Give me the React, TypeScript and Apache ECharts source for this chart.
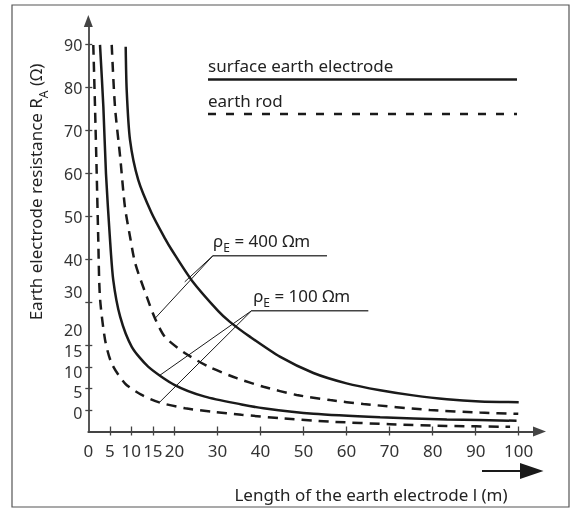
import React, { useEffect, useRef } from 'react';
import * as echarts from 'echarts';

const FONT = '"Noto Sans", sans-serif';
const INK = '#1a1a1a';
const AXIS = '#444';

// axis ticks & labels (drawing units: x in m, y in the chart's linear scale)
const xLabelValues = [0, 5, 10, 15, 20, 30, 40, 50, 60, 70, 80, 90, 100];
const xTickValues = [5, 10, 15, 20, 30, 40, 50, 60, 70, 80, 90, 100];
const yTickValues = [5, 10, 15, 20, 30, 40, 50, 60, 70, 80, 90];
const yLabelValues = [4.4, 9.2, 13.9, 18.7, 23.5, 32.5, 40, 50, 60, 70, 80, 90];
const yLabelTexts = ['0', '5', '10', '15', '20', '30', '40', '50', '60', '70', '80', '90'];

// curves [length l (m), resistance]
const surface400 = [
  [8.69, 89.5], [8.92, 79.4], [9.69, 67.8], [11.6, 58.5], [14.7, 50.8], [17.8, 44.9],
  [19.4, 42.2], [24.0, 35.2], [30.2, 28.0], [32.9, 25.5], [37.6, 22.0], [44.5, 17.4],
  [52.3, 13.6], [60.0, 11.2], [67.8, 9.6], [75.5, 8.4], [83.3, 7.5], [91.0, 7.0], [100, 6.8],
];
const rod400 = [
  [5.44, 89.9], [6.2, 75.5], [7.4, 63.9], [8.5, 52.3], [9.7, 45.3], [10.9, 39.1],
  [13.6, 31.3], [15.5, 26.3], [17.8, 22.0], [22.5, 18.2], [27.9, 15.1], [34.5, 12.4],
  [40.7, 10.4], [48.4, 8.5], [56.2, 7.3], [63.9, 6.4], [79.4, 5.0],
  [91.0, 4.4], [99.9, 4.1],
];
const surface100 = [
  [2.72, 89.9], [3.5, 75.5], [4.1, 60.1], [5.0, 45.3], [5.8, 35.2], [7.4, 26.7],
  [10.1, 19.7], [13.9, 15.1], [20.1, 10.8], [27.1, 8.1], [35.6, 6.3], [40.7, 5.4],
  [52.3, 4.1], [67.8, 3.3], [83.3, 2.8], [99.5, 2.5],
];
const rod100 = [
  [1.16, 89.9], [1.56, 75.5], [1.95, 60.1], [2.3, 45.3], [2.7, 31.3], [3.9, 21.3],
  [5.4, 15.9], [8.5, 11.2], [12.4, 8.5], [16.7, 6.7], [22.5, 5.4], [28.7, 4.6],
  [35.6, 3.9], [44.5, 3.1], [56.2, 2.3], [70.1, 1.7], [83.3, 1.3], [98.0, 1.1],
];

// annotations (data coordinates)
const annotations = [
  { rho: '400', label: [29.0, 44.1], vertex: [28.97, 40.9], lineEnd: [55.46, 40.9], leaders: [[15.5, 26.3], [22.4, 34.8]] },
  { rho: '100', label: [38.3, 31.3], vertex: [37.96, 28.1], lineEnd: [65.06, 28.1], leaders: [[16.66, 13.1], [16.66, 6.9]] },
];

const X0 = 88.3;
const Y0 = 431.5;
const PX = 4.304;
const PY = 4.3;
const xMax = 104.83;
const yMax = 95.47;

const tickStyle = { color: AXIS, width: 1.3 };

const mainStyle = { fontSize: 17, fontFamily: FONT, fill: '#222', lineHeight: 20, verticalAlign: 'top' };
const subStyle = { fontSize: 12, fontFamily: FONT, fill: '#222', lineHeight: 14, padding: [10, 0, 0, 0], verticalAlign: 'top' };

function lineSeries(name: string, data: number[][], dashed: boolean) {
  return {
    name,
    type: 'line',
    data,
    xAxisIndex: 0,
    yAxisIndex: 0,
    symbol: 'none',
    showSymbol: false,
    smooth: 0.25,
    clip: false,
    lineStyle: { color: INK, width: 2.5, type: dashed ? [10, 7] : 'solid' },
  };
}

export default function App() {
  const ref = useRef<HTMLDivElement>(null);
  useEffect(() => {
    const chart = echarts.init(ref.current!, null, { renderer: 'svg' });
    const gridH = yMax * PY;
    const gridW = xMax * PX;
    chart.setOption({
      animation: false,
      grid: { left: X0, top: Y0 - gridH, width: gridW, height: gridH, containLabel: false },
      xAxis: [
        {
          type: 'value', min: 0, max: xMax, position: 'bottom',
          axisLine: { show: true, lineStyle: { color: AXIS, width: 1.8 }, symbol: ['none', 'triangle'], symbolSize: [10, 13] },
          axisTick: { show: true, customValues: xTickValues, length: 4, lineStyle: tickStyle },
          axisLabel: { customValues: xLabelValues, margin: 11, fontSize: 17, lineHeight: 16, fontFamily: FONT, color: '#333' },
          splitLine: { show: false },
        },
        {
          type: 'value', min: 0, max: xMax, position: 'bottom',
          axisLine: { show: false },
          axisTick: { show: true, inside: true, customValues: xTickValues, length: 5, lineStyle: tickStyle },
          axisLabel: { show: false },
          splitLine: { show: false },
        },
      ],
      yAxis: [
        {
          type: 'value', min: 0, max: yMax, position: 'left',
          axisLine: { show: true, lineStyle: { color: AXIS, width: 1.8 }, symbol: ['none', 'triangle'], symbolSize: [9, 12] },
          axisTick: { show: true, customValues: yTickValues, length: 3, lineStyle: tickStyle },
          axisLabel: {
            customValues: yLabelValues, margin: 6, fontSize: 16, lineHeight: 13, fontFamily: FONT, color: '#333',
            formatter: (v: number) => {
              const i = yLabelValues.indexOf(v);
              return i >= 0 ? yLabelTexts[i] : '';
            },
          },
          splitLine: { show: false },
        },
        {
          type: 'value', min: 0, max: yMax, position: 'left',
          axisLine: { show: false },
          axisTick: { show: true, inside: true, customValues: yTickValues, length: 4, lineStyle: tickStyle },
          axisLabel: { show: false },
          splitLine: { show: false },
        },
      ],
      series: [
        lineSeries('surface earth electrode, ρE = 400 Ωm', surface400, false),
        lineSeries('earth rod, ρE = 400 Ωm', rod400, true),
        lineSeries('surface earth electrode, ρE = 100 Ωm', surface100, false),
        lineSeries('earth rod, ρE = 100 Ωm', rod100, true),
      ],
    });

    const toPx = (p: number[]) => chart.convertToPixel({ gridIndex: 0 }, p) as number[];
    const graphics: any[] = [
      { type: 'rect', shape: { x: 12, y: 5, width: 557, height: 502 }, style: { fill: 'none', stroke: '#555', lineWidth: 1.2 }, silent: true },
      { type: 'text', x: 208, y: 65, style: { text: 'surface earth electrode', fontSize: 17, fontFamily: FONT, fill: '#222', verticalAlign: 'middle', align: 'left' } },
      { type: 'line', shape: { x1: 208, y1: 79.5, x2: 517, y2: 79.5 }, style: { stroke: INK, lineWidth: 2.5 } },
      { type: 'text', x: 208, y: 100, style: { text: 'earth rod', fontSize: 17, fontFamily: FONT, fill: '#222', verticalAlign: 'middle', align: 'left' } },
      { type: 'line', shape: { x1: 208, y1: 114, x2: 517, y2: 114 }, style: { stroke: INK, lineWidth: 2.5, lineDash: [8, 10] } },
      {
        type: 'text', x: 37, y: 192, rotation: Math.PI / 2,
        style: {
          text: '{a|Earth electrode resistance R}{s|A}{a| (Ω)}',
          rich: { a: mainStyle, s: subStyle },
          align: 'center', verticalAlign: 'middle',
        },
      },
      { type: 'text', x: 371, y: 494, style: { text: 'Length of the earth electrode l (m)', fontSize: 17, fontFamily: FONT, fill: '#222', align: 'center', verticalAlign: 'middle' } },
      { type: 'line', shape: { x1: 482, y1: 471, x2: 524, y2: 471 }, style: { stroke: INK, lineWidth: 2 } },
      { type: 'polygon', shape: { points: [[520, 463], [543.5, 471], [520, 479]] }, style: { fill: INK } },
    ];
    annotations.forEach((a) => {
      const lp = toPx(a.label);
      const v = toPx(a.vertex);
      const e = toPx(a.lineEnd);
      graphics.push({
        type: 'text', x: lp[0], y: lp[1],
        style: {
          text: `{a|ρ}{s|E}{a| = ${a.rho} Ωm}`,
          rich: { a: mainStyle, s: subStyle },
          align: 'left', verticalAlign: 'middle',
        },
      });
      graphics.push({ type: 'line', shape: { x1: v[0], y1: v[1], x2: e[0], y2: e[1] }, style: { stroke: '#444', lineWidth: 1.5 } });
      a.leaders.forEach((l) => {
        const p = toPx(l);
        graphics.push({ type: 'line', shape: { x1: v[0], y1: v[1], x2: p[0], y2: p[1] }, style: { stroke: INK, lineWidth: 1 } });
      });
    });
    chart.setOption({ graphic: graphics });
    return () => chart.dispose();
  }, []);
  return <div ref={ref} style={{ position: 'fixed', left: 0, top: 0, width: 573, height: 510 }} />;
}
